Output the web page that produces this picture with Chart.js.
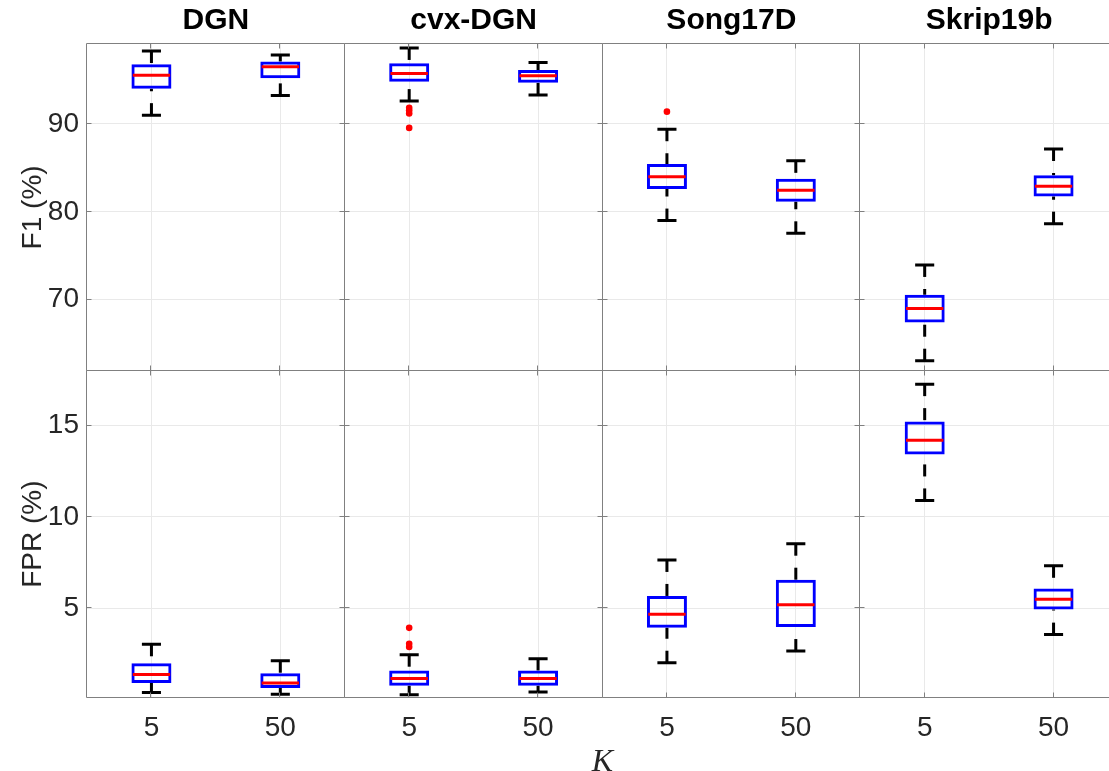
<!DOCTYPE html>
<html>
<head>
<meta charset="utf-8">
<script src="https://cdn.jsdelivr.net/npm/chart.js@4.4.1/dist/chart.umd.min.js"></script>
<style>
  html, body { margin: 0; padding: 0; background: #ffffff; overflow: hidden; }
  #wrap { position: absolute; left: 0; top: 0; width: 1130px; height: 790px; }
</style>
</head>
<body>
<div id="wrap"><canvas id="c" width="1130" height="790"></canvas></div>
<script>
// Methods (one column each) and the two K settings on the x axis
const methods = ['DGN', 'cvx-DGN', 'Song17D', 'Skrip19b'];
const kLabels = ['5', '50'];
const kPositions = [1, 2];

// Box statistics: [lower whisker, Q1, median, Q3, upper whisker], one entry per K
const f1DGN      = [[91.0, 94.0, 95.55, 96.8, 98.3],  [93.25, 95.2, 96.5, 97.1, 97.85]];
const f1CvxDGN   = [[92.6, 94.8, 95.75, 96.9, 98.65], [93.3, 94.7, 95.5, 96.15, 97.0]];
const f1Song17D  = [[79.0, 82.6, 84.0, 85.45, 89.4],  [77.55, 81.15, 82.45, 83.75, 85.8]];
const f1Skrip19b = [[63.05, 67.4, 69.0, 70.55, 73.95], [78.65, 81.75, 82.9, 84.15, 87.15]];

const fprDGN      = [[0.38, 0.9, 1.37, 1.98, 3.02],   [0.29, 0.62, 0.9, 1.43, 2.12]];
const fprCvxDGN   = [[0.25, 0.75, 1.15, 1.59, 2.45],  [0.4, 0.75, 1.15, 1.59, 2.23]];
const fprSong17D  = [[2.01, 3.93, 4.67, 5.66, 7.64],  [2.65, 3.97, 5.18, 6.55, 8.53]];
const fprSkrip19b = [[10.9, 13.41, 14.19, 15.22, 17.27], [3.55, 4.92, 5.49, 6.08, 7.32]];

// Outliers per K
const f1OutDGN      = [[], []];
const f1OutCvxDGN   = [[91.85, 91.55, 91.2, 89.55], []];
const f1OutSong17D  = [[91.4], []];
const f1OutSkrip19b = [[], []];
const fprOutDGN      = [[], []];
const fprOutCvxDGN   = [[3.92, 3.05, 2.87], []];
const fprOutSong17D  = [[], []];
const fprOutSkrip19b = [[], []];

// Axis ticks and limits
const f1Ticks = [70, 80, 90];
const fprTicks = [5, 10, 15];
const f1Range = [61.9, 99.1];
const fprRange = [0.1, 18.0];
const kRange = [0.5, 2.5];

const rows = [
  { id: 'yF1', title: 'F1 (%)', ticks: f1Ticks, range: f1Range,
    boxes: [f1DGN, f1CvxDGN, f1Song17D, f1Skrip19b],
    outliers: [f1OutDGN, f1OutCvxDGN, f1OutSong17D, f1OutSkrip19b] },
  { id: 'yFPR', title: 'FPR (%)', ticks: fprTicks, range: fprRange,
    boxes: [fprDGN, fprCvxDGN, fprSong17D, fprSkrip19b],
    outliers: [fprOutDGN, fprOutCvxDGN, fprOutSong17D, fprOutSkrip19b] }
];

Chart.defaults.font.family = "'Liberation Sans', Arial, sans-serif";
const GRID = '#e9e9e9';
const FRAME = '#808080';
const TEXT = '#262626';
const TICK_FONT = { size: 28 };
const LABEL_FONT = { size: 28 };
const CAP_HALF = 0.074;   // half cap length, in K-axis units
const MED_HALF = 0.145;   // half median length
const WHISKER_DASH = [12, 12];

function segment(xAxisID, yAxisID, pts, color, dash, order) {
  return {
    type: 'line', xAxisID, yAxisID, data: pts,
    borderColor: color, borderWidth: 3, borderDash: dash, borderCapStyle: 'butt',
    pointRadius: 0, pointHoverRadius: 0, fill: false, tension: 0, order
  };
}

const datasets = [];
rows.forEach(row => {
  methods.forEach((m, c) => {
    const xAxisID = 'x' + c, yAxisID = row.id;
    const stats = row.boxes[c];
    // interquartile boxes
    datasets.push({
      type: 'bar', xAxisID, yAxisID,
      data: stats.map((s, i) => ({ x: kPositions[i], y: [s[1], s[3]] })),
      backgroundColor: 'rgba(0,0,0,0)', borderColor: '#0000ff', borderWidth: 3,
      borderSkipped: false, grouped: false, maxBarThickness: 40, order: 3
    });
    stats.forEach((s, i) => {
      const x = kPositions[i];
      // whiskers run from the cap towards the box so the dashes start at the cap
      datasets.push(segment(xAxisID, yAxisID, [{ x, y: s[4] }, { x, y: s[3] }], '#000000', WHISKER_DASH, 4));
      datasets.push(segment(xAxisID, yAxisID, [{ x, y: s[0] }, { x, y: s[1] }], '#000000', WHISKER_DASH, 4));
      // caps
      datasets.push(segment(xAxisID, yAxisID, [{ x: x - CAP_HALF, y: s[4] }, { x: x + CAP_HALF, y: s[4] }], '#000000', [], 2));
      datasets.push(segment(xAxisID, yAxisID, [{ x: x - CAP_HALF, y: s[0] }, { x: x + CAP_HALF, y: s[0] }], '#000000', [], 2));
      // median
      datasets.push(segment(xAxisID, yAxisID, [{ x: x - MED_HALF, y: s[2] }, { x: x + MED_HALF, y: s[2] }], '#ff0000', [], 1));
    });
    const pts = [];
    row.outliers[c].forEach((vals, i) => vals.forEach(v => pts.push({ x: kPositions[i], y: v })));
    if (pts.length) {
      datasets.push({
        type: 'scatter', xAxisID, yAxisID, data: pts,
        pointRadius: 3.3, pointHoverRadius: 3.3, pointBackgroundColor: '#ff0000',
        pointBorderWidth: 0, showLine: false, order: 0
      });
    }
  });
});

const scales = {};
// left axes stack top-down in reverse order of definition, so the FPR row comes first
[rows[1], rows[0]].forEach(row => {
  scales[row.id] = {
    type: 'linear', axis: 'y', position: 'left', stack: 'rows', stackWeight: 1,
    min: row.range[0], max: row.range[1], beginAtZero: false,
    afterBuildTicks: axis => { axis.ticks = row.ticks.map(v => ({ value: v })); },
    afterFit: axis => { axis.width = 87; axis.paddingTop = 0; axis.paddingBottom = 0; },
    ticks: { font: TICK_FONT, color: TEXT, padding: 8 },
    grid: { color: GRID, lineWidth: 1, drawTicks: false },
    border: { display: false },
    title: { display: true, text: row.title, font: LABEL_FONT, color: TEXT, padding: { top: 16, bottom: 0 } }
  };
});
methods.forEach((m, c) => {
  scales['x' + c] = {
    type: 'linear', axis: 'x', position: 'bottom', stack: 'cols', stackWeight: 1,
    min: kRange[0], max: kRange[1], offset: false,
    afterBuildTicks: axis => { axis.ticks = kPositions.map(v => ({ value: v })); },
    // fixed height; labels sit well inside each column so no edge padding is needed
    afterFit: axis => { axis.height = 46; axis.paddingLeft = 0; axis.paddingRight = 0; },
    ticks: {
      font: TICK_FONT, color: TEXT, padding: 14, maxRotation: 0, autoSkip: false,
      callback: v => kLabels[kPositions.indexOf(v)]
    },
    grid: { color: GRID, lineWidth: 1, drawTicks: false, offset: false },
    border: { display: false }
  };
});
// column titles; top axes also stack in reverse order of definition
for (let c = methods.length - 1; c >= 0; c--) {
  scales['h' + c] = {
    type: 'linear', axis: 'x', position: 'top', stack: 'titles', stackWeight: 1,
    min: kRange[0], max: kRange[1], offset: false,
    afterFit: axis => { axis.height = 44; axis.paddingLeft = 0; axis.paddingRight = 0; },
    ticks: { display: false },
    grid: { display: false, offset: false },
    border: { display: false },
    title: { display: true, text: methods[c], color: '#000000',
             font: { size: 30, weight: 'bold' }, padding: { top: 3, bottom: 0 } }
  };
}

// panel outlines with short inward tick marks on every side
const panelFrames = {
  id: 'panelFrames',
  afterDatasetsDraw(chart) {
    const ctx = chart.ctx;
    const snap = v => Math.round(v) - 0.5;
    ctx.save();
    ctx.strokeStyle = FRAME;
    ctx.lineWidth = 1;
    ctx.beginPath();
    methods.forEach((m, c) => {
      const xs = chart.scales['x' + c];
      rows.forEach(row => {
        const ys = chart.scales[row.id];
        const l = snap(xs.left), r = snap(xs.right), t = snap(ys.top), b = snap(ys.bottom);
        ctx.rect(l, t, r - l, b - t);
        ys.ticks.forEach(tk => {
          const y = snap(ys.getPixelForValue(tk.value));
          ctx.moveTo(l, y); ctx.lineTo(l + 5, y);
          ctx.moveTo(r, y); ctx.lineTo(r - 5, y);
        });
        xs.ticks.forEach(tk => {
          const x = snap(xs.getPixelForValue(tk.value));
          ctx.moveTo(x, t); ctx.lineTo(x, t + 5);
          ctx.moveTo(x, b); ctx.lineTo(x, b - 5);
        });
      });
    });
    ctx.stroke();
    ctx.restore();
  }
};

new Chart(document.getElementById('c'), {
  type: 'bar',
  data: { datasets },
  options: {
    responsive: false,
    devicePixelRatio: 1,
    animation: false,
    events: [],
    layout: { padding: { left: 0, top: 0, right: 12, bottom: 0 } },
    scales,
    plugins: {
      legend: { display: false },
      tooltip: { enabled: false },
      title: {
        display: true, position: 'bottom', text: 'K', fullSize: false,
        font: { family: "'Liberation Serif', 'DejaVu Serif', serif", style: 'italic', weight: 'normal', size: 32 },
        color: TEXT, padding: { top: 0, bottom: 8 }
      }
    }
  },
  plugins: [panelFrames]
});
</script>
</body>
</html>
